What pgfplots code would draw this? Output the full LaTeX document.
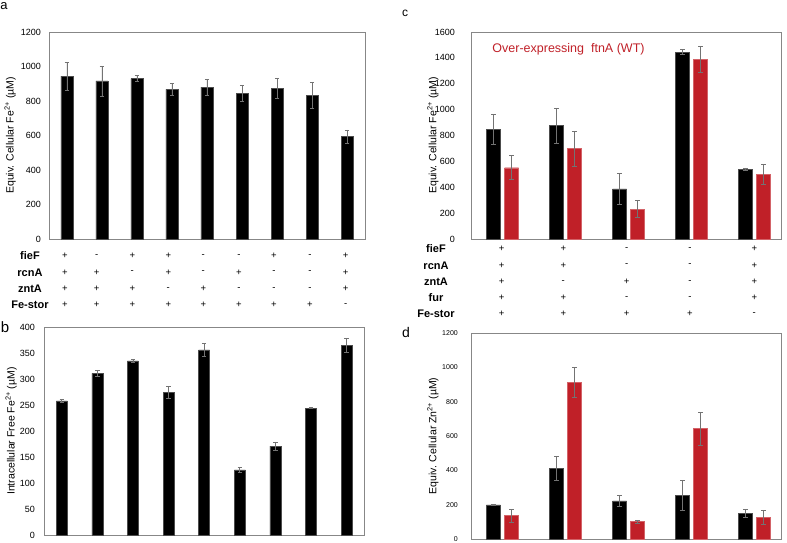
\documentclass[border=0pt]{standalone}
\usepackage{pgfplots}
\pgfplotsset{compat=1.18}
\usepackage{fontspec}
\setmainfont{Liberation Sans}

\definecolor{barred}{RGB}{192,32,40}
\definecolor{framegray}{RGB}{135,135,135}
\definecolor{errgray}{RGB}{115,115,115}

\pgfplotsset{
  panel/.style={
    scale only axis, anchor=south west, clip=false,
    axis line style={framegray, line width=0.6pt},
    xtick=\empty, ymin=0,
    major tick length=0pt,
    tick label style={font=\fontsize{9}{10}\selectfont},
    yticklabel style={inner sep=0pt},
    /pgf/number format/assume math mode=true,
    /pgf/number format/1000 sep={},
    every axis y label/.style={rotate=90,
      anchor=center, font=\fontsize{10.5}{12}\selectfont},
  },
  errs/.style={
    /pgfplots/error bars/y dir=both, /pgfplots/error bars/y explicit,
    /pgfplots/error bars/error bar style={errgray, line width=0.6pt},
    /pgfplots/error bars/error mark options={errgray, rotate=90, mark size=2.2pt, line width=0.6pt}},
  blk/.style={ybar, bar shift=0pt, fill=black, draw=gray!60!black, line width=0.4pt, errs},
  red/.style={ybar, bar shift=0pt, fill=barred, draw=barred!70!white, line width=0.4pt, errs},
}

\begin{document}
\begin{tikzpicture}[x=1pt, y=1pt]
\path[use as bounding box] (0,0) rectangle (787,543);

% ---- a ----
\begin{axis}[panel, at={(49pt,304pt)}, width=316pt, height=207pt,
  xmin=-0.51, xmax=8.51, ymax=1200, ytick distance=200,
  yticklabel style={xshift=-8pt},
  ylabel={Equiv. Cellular Fe\textsuperscript{2+} (µM)},
  ylabel style={at={(axis description cs:-0.123,0.5)}}]
\addplot[blk, bar width=12pt] coordinates {
  (0,944) +- (0,80)  (1,917) +- (0,87)  (2,930) +- (0,18)
  (3,867) +- (0,33)  (4,880) +- (0,46)  (5,844) +- (0,48)
  (6,873) +- (0,56)  (7,832) +- (0,75)  (8,595) +- (0,38)};
\end{axis}

% ---- b ----
\begin{axis}[panel, at={(44pt,8pt)}, width=320pt, height=208pt,
  xmin=-0.5, xmax=8.49, ymax=400, ytick distance=50,
  yticklabel style={xshift=-9pt},
  ylabel={Intracellular Free Fe\textsuperscript{2+} (µM)},
  ylabel style={at={(axis description cs:-0.103,0.5)}}]
\addplot[blk, bar width=11pt] coordinates {
  (0,258) +- (0,3)   (1,311) +- (0,6)   (2,335) +- (0,2)
  (3,274) +- (0,12)  (4,356) +- (0,13)  (5,125) +- (0,5)
  (6,171) +- (0,8)   (7,244) +- (0,1)   (8,365) +- (0,13)};
\end{axis}

% ---- c ----  (black bars at group-0.143, red at group+0.143)
\begin{axis}[panel, at={(471pt,304pt)}, width=310pt, height=207pt,
  xmin=-0.5, xmax=4.42, ymax=1600, ytick distance=200,
  yticklabel style={xshift=-16pt},
  ylabel={Equiv. Cellular Fe\textsuperscript{2+} (µM)},
  ylabel style={at={(axis description cs:-0.1226,0.5)}}]
\addplot[blk, bar width=14pt] coordinates {
  (-0.143,850) +- (0,116)  (0.857,876) +- (0,134)  (1.857,388) +- (0,118)
  (2.857,1445) +- (0,20)   (3.857,539) +- (0,10)};
\addplot[red, bar width=14pt] coordinates {
  (0.143,551) +- (0,93)    (1.143,698) +- (0,134)  (2.143,231) +- (0,67)
  (3.143,1391) +- (0,100)  (4.143,500) +- (0,74)};
\end{axis}

% ---- d ----
\begin{axis}[panel, at={(471pt,4pt)}, width=310pt, height=206pt,
  xmin=-0.5, xmax=4.42, ymax=1200, ytick distance=200,
  tick label style={font=\fontsize{7}{8}\selectfont},
  yticklabel style={xshift=-13pt},
  ylabel={Equiv. Cellular Zn\textsuperscript{2+} (µM)},
  ylabel style={at={(axis description cs:-0.1226,0.5)}}]
\addplot[blk, bar width=14pt] coordinates {
  (-0.143,199) +- (0,3)   (0.857,411) +- (0,68)  (1.857,222) +- (0,33)
  (2.857,253) +- (0,87)   (3.857,149) +- (0,23)};
\addplot[red, bar width=14pt] coordinates {
  (0.143,137) +- (0,37)   (1.143,913) +- (0,85)  (2.143,102) +- (0,8)
  (3.143,643) +- (0,96)   (4.143,127) +- (0,39)};
\end{axis}

% genotype tables
\begin{scope}[every node/.style={font=\fontsize{9.5}{10}\selectfont, inner sep=0pt}]
\foreach \row/\y/\signs in {fieF/287/{+,-,+,+,-,-,+,-,+},
                            rcnA/270.5/{+,+,-,+,-,+,-,-,+},
                            zntA/254/{+,+,+,-,+,-,-,-,+},
                            Fe-stor/238/{+,+,+,+,+,+,+,+,-}} {
  \node[font=\fontsize{11}{12}\selectfont\bfseries] at (30,\y) {\row};
  \foreach \s [count=\i from 0] in \signs {
    \pgfmathsetmacro{\xx}{{65,96.7,132.3,168.3,203.3,239,274,310,345.7}[\i]}
    \node at (\xx,\y) {\s};
  }
}
\foreach \row/\y/\signs in {fieF/294/{+,+,-,-,+},
                            rcnA/277.7/{+,+,-,-,+},
                            zntA/261.4/{+,-,+,-,+},
                            fur/245.1/{+,+,-,-,+},
                            Fe-stor/228.8/{+,+,+,+,-}} {
  \node[font=\fontsize{11}{12}\selectfont\bfseries] at (436,\y) {\row};
  \foreach \s [count=\i from 0] in \signs {
    \pgfmathsetmacro{\xx}{{501.7,563.3,626.7,690,754.3}[\i]}
    \node at (\xx,\y) {\s};
  }
}
\end{scope}

\node[text=barred, font=\fontsize{12.5}{14}\selectfont] at (568.5,494) {Over-expressing\ \ ftnA (WT)};

\node[font=\fontsize{13}{14}\selectfont] at (4,537) {a};
\node[font=\fontsize{15}{16}\selectfont] at (5,216) {b};
\node[font=\fontsize{12}{13}\selectfont] at (405,530) {c};
\node[font=\fontsize{14}{15}\selectfont] at (406,210) {d};
\end{tikzpicture}
\end{document}
